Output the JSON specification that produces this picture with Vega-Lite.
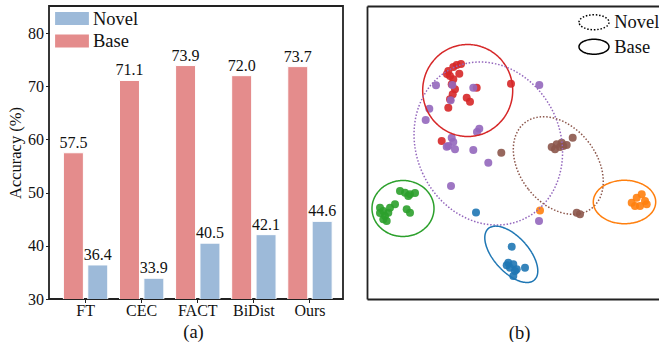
{
  "$schema": "https://vega.github.io/schema/vega-lite/v6.json",
  "padding": {"left": 6, "top": 5, "right": 0, "bottom": 0},
  "spacing": 23,
  "config": {
    "font": "Liberation Serif",
    "axis": {"grid": false, "labelColor": "#111", "titleColor": "#111", "tickColor": "#222", "domainColor": "#222"},
    "legend": {"labelColor": "#111"}
  },
  "resolve": {
    "scale": {"color": "independent"},
    "legend": {"color": "independent", "strokeDash": "independent"}
  },
  "hconcat": [
    {
      "width": 294,
      "height": 293,
      "view": {"stroke": "#222", "strokeWidth": 1.8},
      "data": {"values": [
        {"method": "FT", "group": "Base", "acc": 57.5},
        {"method": "FT", "group": "Novel", "acc": 36.4},
        {"method": "CEC", "group": "Base", "acc": 71.1},
        {"method": "CEC", "group": "Novel", "acc": 33.9},
        {"method": "FACT", "group": "Base", "acc": 73.9},
        {"method": "FACT", "group": "Novel", "acc": 40.5},
        {"method": "BiDist", "group": "Base", "acc": 72.0},
        {"method": "BiDist", "group": "Novel", "acc": 42.1},
        {"method": "Ours", "group": "Base", "acc": 73.7},
        {"method": "Ours", "group": "Novel", "acc": 44.6}
      ]},
      "encoding": {
        "x": {
          "field": "method", "type": "nominal",
          "sort": ["FT", "CEC", "FACT", "BiDist", "Ours"],
          "scale": {"paddingInner": 0.209, "paddingOuter": 0.225, "align": 0.57},
          "axis": {"labelAngle": 0, "labelFontSize": 16, "tickSize": 3.5, "domain": false, "labelPadding": 0,
                   "title": "(a)", "titleFontSize": 18.5, "titleFontWeight": "normal", "titlePadding": 4, "titleX": 144}
        },
        "xOffset": {"field": "group", "type": "nominal", "sort": ["Base", "Novel"], "scale": {"paddingInner": 0.18}},
        "y": {
          "field": "acc", "type": "quantitative",
          "scale": {"domain": [30, 85.1], "nice": false, "zero": false},
          "axis": {"values": [30, 40, 50, 60, 70, 80], "domain": false, "tickSize": 3.5, "labelFontSize": 16, "labelPadding": 2,
                   "title": "Accuracy (%)", "titleFontSize": 16.5, "titleFontWeight": "normal", "titlePadding": 4}
        }
      },
      "layer": [
        {
          "mark": {"type": "bar", "stroke": "white", "strokeWidth": 1, "clip": true},
          "encoding": {
            "color": {
              "field": "group", "type": "nominal",
              "scale": {"domain": ["Novel", "Base"], "range": ["#9dbad9", "#e48c8c"]},
              "legend": {"orient": "none", "legendX": 13.75, "legendY": 3.25, "padding": 0, "title": null,
                         "symbolType": "M-2.6,-1H2.6V1H-2.6Z", "symbolSize": 169, "symbolStrokeWidth": 0,
                         "labelFontSize": 18.5, "labelOffset": 11.75, "rowPadding": 3.5}
            }
          }
        },
        {
          "mark": {"type": "text", "baseline": "alphabetic", "dy": -5, "fontSize": 16, "color": "#111"},
          "encoding": {"text": {"field": "acc", "type": "quantitative", "format": ".1f"}}
        }
      ]
    },
    {
      "width": 292,
      "height": 293,
      "view": {"stroke": null},
      "resolve": {"axis": {"x": "independent", "y": "independent"}},
      "layer": [
        {
          "data": {"values": [
            {"x": 33, "y": 108, "cls": "green"}, {"x": 38, "y": 106.3, "cls": "green"}, {"x": 43, "y": 104.7, "cls": "green"},
            {"x": 48, "y": 106, "cls": "green"}, {"x": 41.3, "y": 103, "cls": "green"}, {"x": 13, "y": 91.3, "cls": "green"},
            {"x": 16.3, "y": 88, "cls": "green"}, {"x": 18, "y": 83, "cls": "green"}, {"x": 21.3, "y": 86.3, "cls": "green"},
            {"x": 28, "y": 94.7, "cls": "green"}, {"x": 23, "y": 91.3, "cls": "green"}, {"x": 19.7, "y": 78, "cls": "green"},
            {"x": 16.3, "y": 79.7, "cls": "green"}, {"x": 39.7, "y": 89.7, "cls": "green"}, {"x": 43, "y": 86.3, "cls": "green"},
            {"x": 13, "y": 86, "cls": "green"},
            {"x": 173, "y": 88.5, "cls": "orange"}, {"x": 264.7, "y": 96.3, "cls": "orange"}, {"x": 269.7, "y": 101.3, "cls": "orange"},
            {"x": 274.7, "y": 104.7, "cls": "orange"}, {"x": 278, "y": 98, "cls": "orange"}, {"x": 273, "y": 93, "cls": "orange"},
            {"x": 279.7, "y": 94.7, "cls": "orange"}, {"x": 268, "y": 93, "cls": "orange"},
            {"x": 109, "y": 86.5, "cls": "blue"}, {"x": 144.7, "y": 52.3, "cls": "blue"}, {"x": 141.3, "y": 36.3, "cls": "blue"},
            {"x": 146.3, "y": 34.7, "cls": "blue"}, {"x": 143, "y": 31.3, "cls": "blue"}, {"x": 148, "y": 28, "cls": "blue"},
            {"x": 146.3, "y": 23, "cls": "blue"}, {"x": 149.7, "y": 29.7, "cls": "blue"}, {"x": 158, "y": 31.3, "cls": "blue"},
            {"x": 139.7, "y": 33.7, "cls": "blue"},
            {"x": 89.7, "y": 234, "cls": "red"}, {"x": 86.3, "y": 232, "cls": "red"}, {"x": 92.3, "y": 225.3, "cls": "red"},
            {"x": 81.3, "y": 228, "cls": "red"}, {"x": 83, "y": 223, "cls": "red"}, {"x": 86.3, "y": 219.7, "cls": "red"},
            {"x": 84.7, "y": 214.7, "cls": "red"}, {"x": 88, "y": 209.7, "cls": "red"}, {"x": 85.7, "y": 204.7, "cls": "red"},
            {"x": 83, "y": 199.7, "cls": "red"}, {"x": 81.3, "y": 191.3, "cls": "red"}, {"x": 99.7, "y": 201.3, "cls": "red"},
            {"x": 103, "y": 197.3, "cls": "red"}, {"x": 109.7, "y": 211.3, "cls": "red"}, {"x": 144, "y": 215.3, "cls": "red"},
            {"x": 74.7, "y": 158, "cls": "red"}, {"x": 94, "y": 235, "cls": "red"}, {"x": 80, "y": 225, "cls": "red"},
            {"x": 134.3, "y": 146.3, "cls": "brown"}, {"x": 184.7, "y": 152, "cls": "brown"}, {"x": 189.7, "y": 154.7, "cls": "brown"},
            {"x": 194.7, "y": 156.3, "cls": "brown"}, {"x": 199.7, "y": 154, "cls": "brown"}, {"x": 205.7, "y": 161.3, "cls": "brown"},
            {"x": 188, "y": 149.7, "cls": "brown"}, {"x": 193, "y": 152, "cls": "brown"}, {"x": 196.3, "y": 153, "cls": "brown"},
            {"x": 209.7, "y": 86.3, "cls": "brown"}, {"x": 213, "y": 84.7, "cls": "brown"},
            {"x": 69, "y": 213.7, "cls": "purple"}, {"x": 85.3, "y": 214, "cls": "purple"}, {"x": 106.3, "y": 211.3, "cls": "purple"},
            {"x": 83.7, "y": 198.7, "cls": "purple"}, {"x": 62.3, "y": 190.3, "cls": "purple"}, {"x": 58.7, "y": 179, "cls": "purple"},
            {"x": 172.3, "y": 214, "cls": "purple"}, {"x": 112.3, "y": 170.3, "cls": "purple"}, {"x": 110, "y": 167, "cls": "purple"},
            {"x": 84.7, "y": 161.3, "cls": "purple"}, {"x": 86.3, "y": 157, "cls": "purple"}, {"x": 81.3, "y": 153, "cls": "purple"},
            {"x": 88, "y": 149.7, "cls": "purple"}, {"x": 79.7, "y": 152.3, "cls": "purple"}, {"x": 106.3, "y": 149, "cls": "purple"},
            {"x": 121.3, "y": 136.3, "cls": "purple"}, {"x": 84, "y": 113, "cls": "purple"}, {"x": 172, "y": 78, "cls": "purple"}
          ]},
          "mark": {"type": "circle", "size": 64, "opacity": 0.9},
          "encoding": {
            "x": {"field": "x", "type": "quantitative", "scale": {"domain": [0, 292], "nice": false, "zero": false},
                  "axis": {"orient": "bottom", "labels": false, "ticks": false, "domainWidth": 1.8, "title": "(b)",
                           "titleFontSize": 18.5, "titleFontWeight": "normal", "titlePadding": 24, "titleX": 152}},
            "y": {"field": "y", "type": "quantitative", "scale": {"domain": [0, 293], "nice": false, "zero": false},
                  "axis": {"orient": "left", "labels": false, "ticks": false, "domain": true, "domainWidth": 1.8, "title": null}},
            "color": {"field": "cls", "type": "nominal",
                      "scale": {"domain": ["blue", "orange", "green", "red", "purple", "brown"],
                                "range": ["#1f77b4", "#ff7f0e", "#2ca02c", "#d62728", "#9467bd", "#8c564b"]},
                      "legend": null}
          }
        },
        {
          "data": {"values": [{"x": 100.7, "y": 208.5, "kind": "Base"}]},
          "mark": {"type": "point", "filled": false, "opacity": 1, "stroke": "#d62728", "strokeWidth": 1.5,
                   "shape": "M-1,0C-1,-0.5645 -0.5523,-1.022 0,-1.022C0.5523,-1.022 1,-0.5645 1,0C1,0.5645 0.5523,1.022 0,1.022C-0.5523,1.022 -1,0.5645 -1,0Z",
                   "size": 8100},
          "encoding": {
            "x": {"field": "x", "type": "quantitative",
                  "axis": {"orient": "top", "labels": false, "ticks": false, "domainWidth": 1.8, "title": null}},
            "y": {"field": "y", "type": "quantitative", "axis": null},
            "strokeDash": {"field": "kind", "type": "nominal",
                           "scale": {"domain": ["Novel", "Base"], "range": [[1.5, 1.8], [1, 0]]},
                           "legend": {"orient": "none", "legendX": 217.75, "legendY": 7, "padding": 0, "title": null,
                                      "symbolType": "M-2,0C-2,-0.5523 -1.1046,-1 0,-1C1.1046,-1 2,-0.5523 2,0C2,0.5523 1.1046,1 0,1C-1.1046,1 -2,0.5523 -2,0Z",
                                      "symbolSize": 225, "symbolStrokeColor": "black", "symbolFillColor": "transparent",
                                      "symbolStrokeWidth": 1.5, "labelFontSize": 18.5, "labelOffset": 11, "rowPadding": 2.5}}
          }
        },
        {
          "data": {"values": [{"x": 121.3, "y": 155.5, "kind": "Novel"}]},
          "mark": {"type": "point", "filled": false, "opacity": 1, "stroke": "#9467bd", "strokeWidth": 1.5, "angle": -25,
                   "shape": "M-1,0C-1,-0.639 -0.5523,-1.157 0,-1.157C0.5523,-1.157 1,-0.639 1,0C1,0.639 0.5523,1.157 0,1.157C-0.5523,1.157 -1,0.639 -1,0Z",
                   "size": 20794},
          "encoding": {
            "x": {"field": "x", "type": "quantitative", "axis": null},
            "y": {"field": "y", "type": "quantitative", "axis": null},
            "strokeDash": {"field": "kind", "type": "nominal"}
          }
        },
        {
          "data": {"values": [{"x": 191.3, "y": 133.5, "kind": "Novel"}]},
          "mark": {"type": "point", "filled": false, "opacity": 1, "stroke": "#8c564b", "strokeWidth": 1.5, "angle": -38,
                   "shape": "M-1,0C-1,-0.7848 -0.5523,-1.421 0,-1.421C0.5523,-1.421 1,-0.7848 1,0C1,0.7848 0.5523,1.421 0,1.421C-0.5523,1.421 -1,0.7848 -1,0Z",
                   "size": 5837},
          "encoding": {
            "x": {"field": "x", "type": "quantitative", "axis": null},
            "y": {"field": "y", "type": "quantitative", "axis": null},
            "strokeDash": {"field": "kind", "type": "nominal"}
          }
        },
        {
          "data": {"values": [{"x": 36, "y": 90.5, "kind": "Base"}]},
          "mark": {"type": "point", "filled": false, "opacity": 1, "stroke": "#2ca02c", "strokeWidth": 1.5,
                   "shape": "M-1,0C-1,-0.4987 -0.5523,-0.903 0,-0.903C0.5523,-0.903 1,-0.4987 1,0C1,0.4987 0.5523,0.903 0,0.903C-0.5523,0.903 -1,0.4987 -1,0Z",
                   "size": 3844},
          "encoding": {
            "x": {"field": "x", "type": "quantitative", "axis": null},
            "y": {"field": "y", "type": "quantitative", "axis": null},
            "strokeDash": {"field": "kind", "type": "nominal"}
          }
        },
        {
          "data": {"values": [{"x": 144.3, "y": 44.7, "kind": "Base"}]},
          "mark": {"type": "point", "filled": false, "opacity": 1, "stroke": "#1f77b4", "strokeWidth": 1.5, "angle": -42,
                   "shape": "M-1,0C-1,-1.0886 -0.5523,-1.971 0,-1.971C0.5523,-1.971 1,-1.0886 1,0C1,1.0886 0.5523,1.971 0,1.971C-0.5523,1.971 -1,1.0886 -1,0Z",
                   "size": 1225},
          "encoding": {
            "x": {"field": "x", "type": "quantitative", "axis": null},
            "y": {"field": "y", "type": "quantitative", "axis": null},
            "strokeDash": {"field": "kind", "type": "nominal"}
          }
        },
        {
          "data": {"values": [{"x": 257.5, "y": 97, "kind": "Base"}]},
          "mark": {"type": "point", "filled": false, "opacity": 1, "stroke": "#ff7f0e", "strokeWidth": 1.5,
                   "shape": "M-1,0C-1,-0.3844 -0.5523,-0.696 0,-0.696C0.5523,-0.696 1,-0.3844 1,0C1,0.3844 0.5523,0.696 0,0.696C-0.5523,0.696 -1,0.3844 -1,0Z",
                   "size": 3894},
          "encoding": {
            "x": {"field": "x", "type": "quantitative", "axis": null},
            "y": {"field": "y", "type": "quantitative", "axis": null},
            "strokeDash": {"field": "kind", "type": "nominal"}
          }
        }
      ]
    }
  ]
}
